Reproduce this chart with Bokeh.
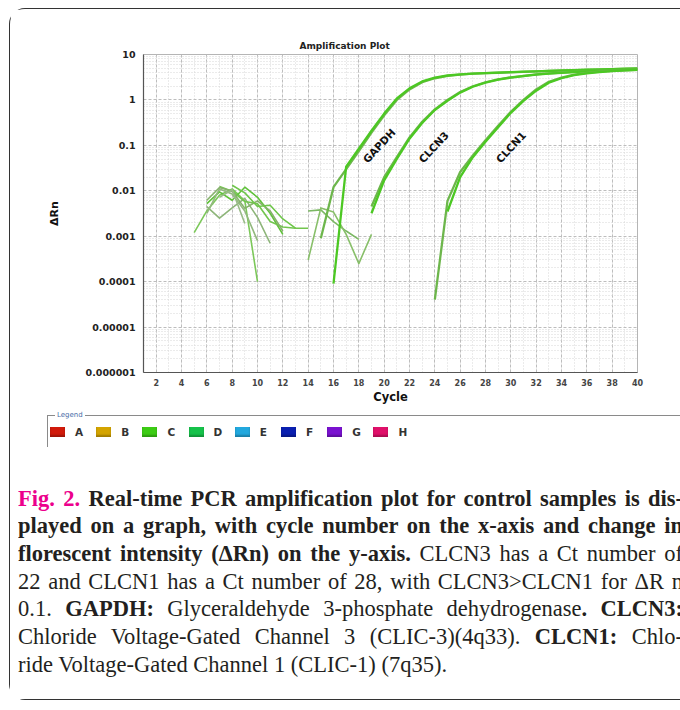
import html
from bokeh.plotting import figure
from bokeh.layouts import column
from bokeh.models import FixedTicker, CustomJSTickFormatter, Range1d, Div
from bokeh.core.properties import value
from bokeh.embed import file_html
from bokeh.resources import INLINE

# ---------------- data ----------------
x_ticks = [2, 4, 6, 8, 10, 12, 14, 16, 18, 20, 22, 24, 26, 28, 30, 32, 34, 36, 38, 40]
y_ticks = [0.000001, 0.00001, 0.0001, 0.001, 0.01, 0.1, 1, 10]
y_tick_labels = ["0.000001", "0.00001", "0.0001", "0.001", "0.01", "0.1", "1", "10"]

noise_1_cycles = [5, 6, 7, 8, 9, 10]
noise_1 = [0.0012, 0.0036, 0.008, 0.011, 0.006, 0.0001]
noise_2_cycles = [6, 7, 8, 9, 10, 11]
noise_2 = [0.0045, 0.0025, 0.0042, 0.0068, 0.0026, 0.0007]
noise_3_cycles = [6, 7, 8, 9, 10, 11, 12]
noise_3 = [0.0052, 0.0095, 0.0062, 0.012, 0.0072, 0.0032, 0.0011]
noise_4_cycles = [6, 7, 8, 9, 10]
noise_4 = [0.0032, 0.011, 0.0085, 0.0036, 0.0008]
noise_5_cycles = [7, 8, 9, 10, 11, 12, 13, 14]
noise_5 = [0.0125, 0.0098, 0.0058, 0.0052, 0.0021, 0.0016, 0.0015, 0.0015]
noise_6_cycles = [6, 7, 8, 9, 10, 11, 12]
noise_6 = [0.0062, 0.0118, 0.0098, 0.0041, 0.006, 0.0036, 0.0013]
noise_7_cycles = [8, 9, 10, 11, 12, 13]
noise_7 = [0.0132, 0.009, 0.0045, 0.0048, 0.0024, 0.0015]
noise_8_cycles = [7, 8, 9]
noise_8 = [0.0072, 0.0105, 0.0019]
noise_9_cycles = [14, 15, 16, 17, 18]
noise_9 = [0.0036, 0.0038, 0.0021, 0.0013, 0.00085]
noise_10_cycles = [14, 15, 16, 17, 18, 19]
noise_10 = [0.0003, 0.0042, 0.0034, 0.0011, 0.00025, 0.0011]

gapdh_1_cycles = [15, 16, 17, 18, 19, 20, 21, 22, 23, 24, 25, 26, 27, 28, 29, 30, 31, 32, 33,
                  34, 35, 36, 37, 38, 39, 40]
gapdh_1 = [0.0009, 0.012, 0.03, 0.075, 0.19, 0.46, 1.0, 1.7, 2.45, 3.0, 3.4, 3.62, 3.78, 3.88,
           3.97, 4.06, 4.15, 4.24, 4.33, 4.42, 4.5, 4.58, 4.66, 4.74, 4.82, 4.9]
gapdh_2_cycles = [16, 17, 18, 19, 20, 21, 22, 23, 24, 25, 26, 27, 28, 29, 30, 31, 32, 33, 34,
                  35, 36, 37, 38, 39, 40]
gapdh_2 = [0.00009, 0.034, 0.085, 0.21, 0.5, 1.08, 1.8, 2.55, 3.1, 3.45, 3.66, 3.8, 3.9, 4.0,
           4.09, 4.18, 4.27, 4.36, 4.45, 4.54, 4.62, 4.7, 4.78, 4.86, 4.95]
clcn3_1_cycles = [19, 20, 21, 22, 23, 24, 25, 26, 27, 28, 29, 30, 31, 32, 33, 34, 35, 36, 37,
                  38, 39, 40]
clcn3_1 = [0.0045, 0.02, 0.055, 0.15, 0.33, 0.62, 1.0, 1.5, 2.0, 2.45, 2.85, 3.15, 3.4, 3.65,
           3.85, 4.0, 4.15, 4.3, 4.42, 4.52, 4.62, 4.72]
clcn3_2_cycles = [19, 20, 21, 22, 23, 24, 25, 26, 27, 28, 29, 30, 31, 32, 33, 34, 35, 36, 37,
                  38, 39, 40]
clcn3_2 = [0.0032, 0.017, 0.05, 0.14, 0.31, 0.6, 0.96, 1.45, 1.95, 2.4, 2.8, 3.1, 3.36, 3.6,
           3.8, 3.96, 4.11, 4.26, 4.38, 4.49, 4.59, 4.68]
clcn1_1_cycles = [24, 25, 26, 27, 28, 29, 30, 31, 32, 33, 34, 35, 36, 37, 38, 39, 40]
clcn1_1 = [0.00004, 0.006, 0.026, 0.06, 0.13, 0.27, 0.55, 1.0, 1.7, 2.5, 3.1, 3.6, 3.95, 4.2,
           4.38, 4.5, 4.62]
clcn1_2_cycles = [25, 26, 27, 28, 29, 30, 31, 32, 33, 34, 35, 36, 37, 38, 39, 40]
clcn1_2 = [0.0035, 0.02, 0.055, 0.12, 0.25, 0.52, 0.95, 1.6, 2.4, 3.0, 3.5, 3.85, 4.1, 4.3,
           4.45, 4.58]

curve_label_names = ["GAPDH", "CLCN3", "CLCN1"]
curve_label_cycles = [19.6, 23.9, 30.0]
curve_label_values = [0.098, 0.092, 0.092]

legend_names = ["A", "B", "C", "D", "E", "F", "G", "H"]
legend_colors = ["#d11a0a", "#d4a400", "#3ccc14", "#16c24a", "#22a8de", "#0a1fb0", "#7a12d0", "#e0106a"]

caption_lines = [
    [("m", "Fig. 2.", False), ("b", "Real-time PCR amplification plot for control samples is dis-", False)],
    [("b", "played on a graph, with cycle number on the x-axis and change in", False)],
    [("b", "florescent intensity (\u0394Rn) on the y-axis.", False), ("r", "CLCN3 has a Ct number of", False)],
    [("r", "22 and CLCN1 has a Ct number of 28, with CLCN3>CLCN1 for \u0394R n", False)],
    [("r", "0.1.", False), ("b", "GAPDH:", False), ("r", "Glyceraldehyde 3-phosphate dehydrogenase", False),
     ("b", ". CLCN3:", True)],
    [("r", "Chloride Voltage-Gated Channel 3 (CLIC-3)(4q33).", False), ("b", "CLCN1:", False),
     ("r", "Chlo-", False)],
    [("r", "ride Voltage-Gated Channel 1 (CLIC-1) (7q35).", False)],
]

# ---------------- geometry (page pixels) ----------------
BOX_X, BOX_Y = 9, 8
CANVAS_X = BOX_X + 1
FRAME_LEFT, FRAME_TOP, FRAME_RIGHT, FRAME_BOTTOM = 143, 54, 637, 372
W1, H1 = 670, 400
H2 = 290
TOP2 = BOX_Y + 1 + H1

border = "1px solid #333333"

# ---------------- amplification plot ----------------
p = figure(width=W1, height=H1, x_range=Range1d(1, 40), y_range=Range1d(0.000001, 10),
           y_axis_type="log", output_backend="svg", toolbar_location=None, margin=0,
           min_border_left=FRAME_LEFT - CANVAS_X,
           min_border_right=W1 - (FRAME_RIGHT - CANVAS_X),
           min_border_top=FRAME_TOP - (BOX_Y + 1),
           min_border_bottom=H1 - (FRAME_BOTTOM - (BOX_Y + 1)))
p.background_fill_color = "white"
p.border_fill_color = "white"
p.outline_line_color = "#b5b5b5"
p.outline_line_width = 1

p.title.text = "Amplification Plot"
p.title.align = "left"
p.title.offset = 156
p.title.standoff = 8
p.title.text_font = "DejaVu Sans"
p.title.text_font_size = "9px"
p.title.text_font_style = "bold"
p.title.text_color = "#222222"

y_minor = [m * 10.0 ** e for e in range(-6, 1) for m in range(2, 10)]
x_minor = list(range(1, 41))
p.xaxis.ticker = FixedTicker(ticks=x_ticks, minor_ticks=x_minor)
p.yaxis.ticker = FixedTicker(ticks=y_ticks, minor_ticks=y_minor)
p.yaxis.formatter = CustomJSTickFormatter(args=dict(vals=y_ticks, labs=y_tick_labels), code="""
for (let i = 0; i < vals.length; i++) {
  if (Math.abs(Math.log10(tick) - Math.log10(vals[i])) < 1e-6) { return labs[i]; }
}
return "";
""")

for ax in (p.xaxis[0], p.yaxis[0]):
    ax.axis_line_color = "#555555"
    ax.axis_line_width = 1.2
    ax.major_tick_in = 0
    ax.major_tick_out = 0
    ax.minor_tick_in = 0
    ax.minor_tick_out = 0
    ax.major_label_text_font = "DejaVu Sans"
    ax.major_label_text_font_style = "bold"
    ax.major_label_text_color = "#222222"
    ax.axis_label_text_font = "DejaVu Sans"
    ax.axis_label_text_font_style = "bold"
    ax.axis_label_text_color = "#111111"

p.yaxis.major_label_text_font_size = "9.5px"
p.yaxis.major_label_standoff = 8
p.yaxis.axis_label = "\u0394Rn"
p.yaxis.axis_label_text_font_size = "11px"
p.yaxis.axis_label_standoff = 22
p.xaxis.major_label_text_font_size = "8px"
p.xaxis.major_label_text_color = "#444444"
p.xaxis.major_label_standoff = 6
p.xaxis.axis_label = "Cycle"
p.xaxis.axis_label_text_font_size = "11.5px"
p.xaxis.axis_label_standoff = 1

for g in (p.xgrid[0], p.ygrid[0]):
    g.grid_line_color = "#bdbdbd"
    g.grid_line_dash = "3 2"
    g.grid_line_width = 1
    g.minor_grid_line_color = "#d6d6d6"
    g.minor_grid_line_dash = "1 2"
    g.minor_grid_line_width = 1

noise_series = [(noise_1_cycles, noise_1), (noise_2_cycles, noise_2), (noise_3_cycles, noise_3),
                (noise_4_cycles, noise_4), (noise_5_cycles, noise_5), (noise_6_cycles, noise_6),
                (noise_7_cycles, noise_7), (noise_8_cycles, noise_8), (noise_9_cycles, noise_9),
                (noise_10_cycles, noise_10)]
noise_colors = ["#7cc85a", "#8db579", "#5fc23a", "#93b97f", "#72c54e", "#86b26c", "#6ec64a",
                "#99bb88", "#7cb864", "#88bf6a"]
for (cx, cy), col in zip(noise_series, noise_colors):
    p.line(cx, cy, line_color=col, line_width=1.6, line_join="round")

amp_series = [(gapdh_1_cycles, gapdh_1), (gapdh_2_cycles, gapdh_2), (clcn3_1_cycles, clcn3_1),
              (clcn3_2_cycles, clcn3_2), (clcn1_1_cycles, clcn1_1), (clcn1_2_cycles, clcn1_2)]
amp_colors = ["#6db64c", "#4cc823", "#6db64c", "#4cc823", "#6db64c", "#4cc823"]
for (cx, cy), col in zip(amp_series, amp_colors):
    p.line(cx, cy, line_color=col, line_width=2.3, line_join="round")

p.text(x=curve_label_cycles, y=curve_label_values, text=curve_label_names, angle=0.82,
       text_font=value("DejaVu Sans"), text_font_style="bold", text_font_size="10.5px",
       text_color="#111111", text_align="center", text_baseline="middle")

# ---------------- legend + caption (HTML panel) ----------------
parts = ['<div style="position:relative;width:%dpx;height:%dpx;overflow:hidden;'
         'background:white;">' % (W1, H2)]
parts.append('<div style="position:absolute;left:%dpx;top:%dpx;width:800px;height:32px;'
             'border-left:1px solid #8a8a8a;border-top:1px solid #8a8a8a;"></div>'
             % (47 - CANVAS_X, 415 - TOP2))
parts.append('<div style="position:absolute;left:%dpx;top:%dpx;font:7px \'DejaVu Sans\';'
             'line-height:8px;color:#4a6ea8;background:white;padding:0 2px;">Legend</div>'
             % (55 - CANVAS_X, 411 - TOP2))
for i, (name, col) in enumerate(zip(legend_names, legend_colors)):
    sx0 = 50 + 46.2 * i
    parts.append('<div style="position:absolute;left:%.1fpx;top:%dpx;width:15px;height:10px;'
                 'background:%s;box-shadow:inset 0 -2px 2px rgba(0,0,0,0.25);"></div>'
                 % (sx0 - CANVAS_X, 427 - TOP2, col))
    parts.append('<div style="position:absolute;left:%.1fpx;top:%dpx;font:bold 10.5px \'DejaVu Sans\';'
                 'line-height:12px;color:#333;">%s</div>'
                 % (sx0 + 25 - CANVAS_X, 426 - TOP2, html.escape(name)))

STY = {"m": "font-weight:bold;color:#ec008c", "b": "font-weight:bold;color:#231f20",
       "r": "font-weight:normal;color:#231f20"}
CAP_LEFT, CAP_RIGHT, BASE0, STEP, FS = 18, 683, 506, 27.7, 22.5
LH = 27.7
asc_off = (LH - 1.107 * FS) / 2 + 0.891 * FS
for li, line in enumerate(caption_lines):
    segs = []
    for style, txt, attach in line:
        sep = "" if (attach or not segs) else " "
        segs.append(sep + '<span style="%s">%s</span>' % (STY[style], html.escape(txt)))
    last = li == len(caption_lines) - 1
    align = "text-align:left;" if last else "text-align:justify;text-align-last:justify;"
    top = BASE0 + li * STEP - asc_off - TOP2
    parts.append('<div style="position:absolute;left:%dpx;top:%.1fpx;width:%dpx;height:%.1fpx;'
                 'overflow:hidden;font-family:\'Liberation Serif\';font-size:%gpx;'
                 'line-height:%.1fpx;%s">%s</div>'
                 % (CAP_LEFT - CANVAS_X, top, CAP_RIGHT - CAP_LEFT, LH, FS, LH, align,
                    "".join(segs)))
parts.append('</div>')

caption = Div(text="".join(parts), width=W1, height=H2, margin=0,
              styles={"overflow": "hidden"})

layout = column(p, caption, margin=0, spacing=0,
                styles={"margin-left": "%dpx" % BOX_X, "margin-top": "%dpx" % BOX_Y,
                        "border-left": border, "border-top": border, "border-bottom": border,
                        "border-radius": "16px 0 0 16px"})
open("out.html", "w").write(file_html(layout, INLINE))
